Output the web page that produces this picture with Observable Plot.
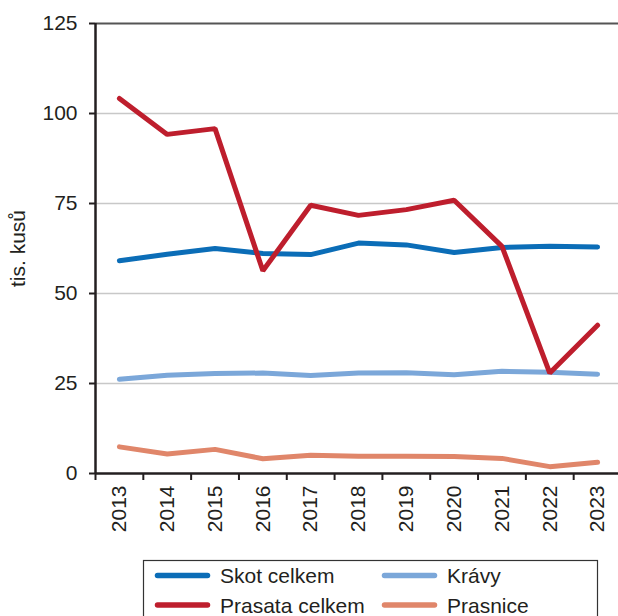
<!DOCTYPE html>
<html>
<head>
<meta charset="utf-8">
<script src="https://cdn.jsdelivr.net/npm/d3@7"></script>
<script src="https://cdn.jsdelivr.net/npm/@observablehq/plot@0.6"></script>
<style>
  html, body { margin: 0; padding: 0; background: white; }
  #chart { position: relative; width: 618px; height: 616px; overflow: hidden; }
  #chart svg { display: block; }
</style>
</head>
<body>
<div id="chart"></div>
<script>
const years = [2013, 2014, 2015, 2016, 2017, 2018, 2019, 2020, 2021, 2022, 2023];
const skotCelkem = [59.1, 60.9, 62.5, 61.1, 60.8, 64.0, 63.5, 61.4, 62.8, 63.1, 62.9];
const kravy = [26.2, 27.3, 27.8, 27.9, 27.2, 27.9, 28.0, 27.4, 28.4, 28.1, 27.6];
const prasataCelkem = [104.2, 94.2, 95.8, 56.3, 74.5, 71.7, 73.3, 75.9, 63.1, 27.9, 41.2];
const prasnice = [7.4, 5.4, 6.7, 4.1, 5.1, 4.8, 4.8, 4.7, 4.2, 1.9, 3.1];
const seriesNames = ["Skot celkem", "Krávy", "Prasata celkem", "Prasnice"];
const seriesValues = [skotCelkem, kravy, prasataCelkem, prasnice];
const seriesColors = ["#0b6db7", "#7ba7d9", "#be1e2d", "#e0866a"];
const yTicks = [0, 25, 50, 75, 100, 125];
const yLabel = "tis. kusů";

const rows = seriesNames.flatMap((name, s) =>
  years.map((year, i) => ({ series: name, year, value: seriesValues[s][i] }))
);
const boundaries = years.map(y => y - 0.5).concat([years[years.length - 1] + 0.5]);

const font = "'Liberation Sans', Arial, sans-serif";
const ink = "#231f20";
const fs = 21;

const plot = Plot.plot({
  width: 618,
  height: 556,
  marginLeft: 95,
  marginRight: -3,
  marginTop: 23,
  marginBottom: 83,
  style: { fontFamily: font, fontSize: fs + "px", color: ink, background: "white", overflow: "visible" },
  x: { type: "linear", domain: [boundaries[0], boundaries[boundaries.length - 1]] },
  y: { domain: [0, 125] },
  color: { domain: seriesNames, range: seriesColors },
  marks: [
    Plot.gridY(yTicks.filter(t => t > 0 && t < 125), { stroke: "#c8c8c8", strokeOpacity: 1, strokeWidth: 1.3 }),
    Plot.ruleY([125], { stroke: "#555", strokeWidth: 2 }),
    Plot.axisY(yTicks, { tickSize: 6, tickPadding: 12, strokeWidth: 2, tickFormat: d => String(d), label: null, fontSize: fs }),
    Plot.axisX(boundaries, { tickSize: 7, strokeWidth: 2, tickFormat: () => "", label: null }),
    Plot.axisX(years, { tickSize: 0, tickPadding: 12, tickRotate: -90, tickFormat: d => String(d), label: null, fontSize: fs }),
    Plot.ruleX([boundaries[0]], { stroke: ink, strokeWidth: 2.5 }),
    Plot.ruleY([0], { stroke: ink, strokeWidth: 2.5 }),
    Plot.line(rows, {
      x: "year", y: "value", z: "series", stroke: "series",
      strokeWidth: 5, strokeLinecap: "round", strokeLinejoin: "miter"
    }),
    Plot.text([yLabel], { x: () => boundaries[0], y: () => 62.5, rotate: -90, dx: -77, fontSize: fs, fill: ink, textAnchor: "middle" })
  ]
});
document.getElementById("chart").appendChild(plot);

// Legend below the plot
const legend = d3.select("#chart").append("svg")
  .attr("width", 618).attr("height", 60)
  .style("font-family", font).style("font-size", fs + "px");
legend.append("rect")
  .attr("x", 143.5).attr("y", 4.5).attr("width", 454).attr("height", 80)
  .attr("fill", "white").attr("stroke", "#333").attr("stroke-width", 1.2);
const colX = [155, 382];
const rowY = [19.5, 49];
seriesNames.forEach((name, i) => {
  const cx = colX[i % 2], cy = rowY[Math.floor(i / 2)];
  legend.append("line")
    .attr("x1", cx + 2.5).attr("x2", cx + 52.5).attr("y1", cy).attr("y2", cy)
    .attr("stroke", seriesColors[i]).attr("stroke-width", 5.5).attr("stroke-linecap", "round");
  legend.append("text")
    .attr("x", cx + 65).attr("y", cy).attr("dy", "0.36em")
    .attr("fill", ink).text(name);
});
</script>
</body>
</html>
